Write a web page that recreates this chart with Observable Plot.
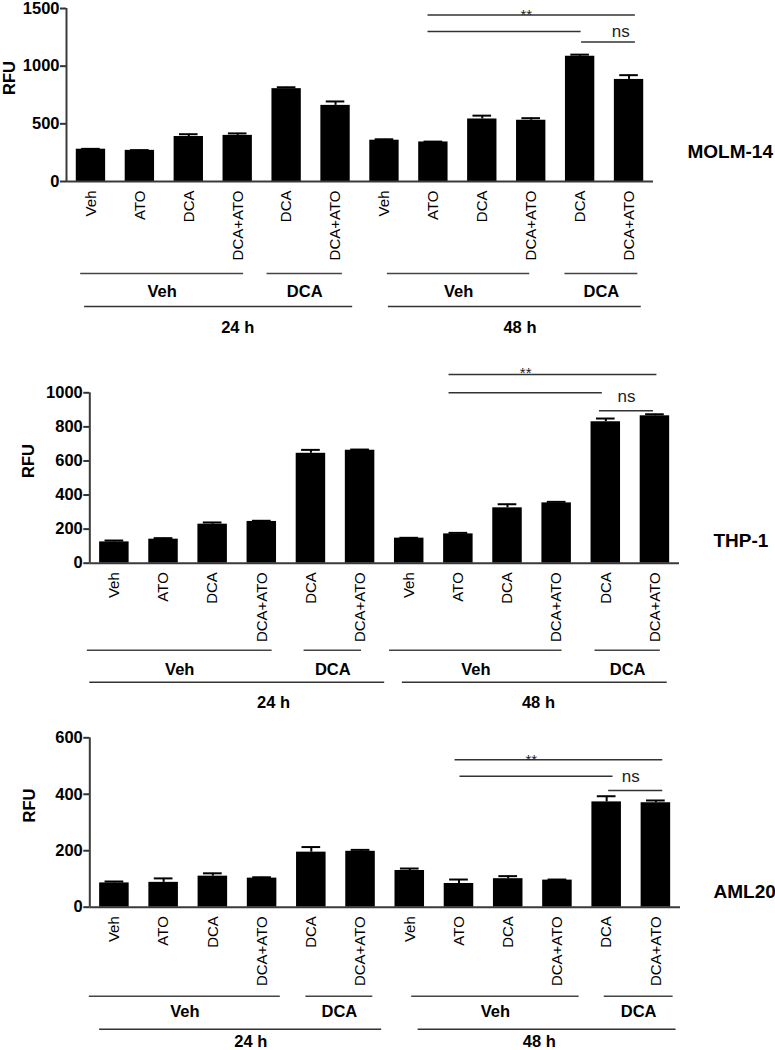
<!DOCTYPE html>
<html><head><meta charset="utf-8">
<script src="https://cdn.jsdelivr.net/npm/d3@7"></script>
<script src="https://cdn.jsdelivr.net/npm/@observablehq/plot@0.6"></script>
<style>
body{margin:0;background:#fff;width:775px;}
svg{display:block;}
</style></head><body><div id="chart"></div>
<script>
// Sample labels (x categories), same in all three panels
const samples = ["Veh","ATO","DCA","DCA+ATO","DCA","DCA+ATO","Veh","ATO","DCA","DCA+ATO","DCA","DCA+ATO"];

// MOLM-14
const molm14Mean = [280, 270, 390, 400, 805, 660, 358, 343, 542, 531, 1086, 885];
const molm14Sem  = [3, 2, 20, 17, 12, 34, 8, 3, 29, 18, 14, 37];
const molm14Ticks = [0, 500, 1000, 1500];

// THP-1
const thp1Mean = [125, 141, 229, 245, 645, 663, 147, 172, 325, 354, 830, 865];
const thp1Sem  = [8, 6, 10, 4, 20, 4, 2, 6, 21, 6, 19, 9];
const thp1Ticks = [0, 200, 400, 600, 800, 1000];

// AML20
const aml20Mean = [86, 88, 110, 103, 195, 198, 130, 84, 101, 96, 373, 370];
const aml20Sem  = [5, 14, 10, 3, 18, 5, 7, 14, 9, 2, 20, 8];
const aml20Ticks = [0, 200, 400, 600];

// Treatment group brackets (in sample-index units)
const molm14Groups = [
  {label:"Veh", from:-0.21, to:3.12}, {label:"DCA", from:3.60, to:5.14},
  {label:"Veh", from:6.06, to:8.97}, {label:"DCA", from:9.69, to:11.18}];
const molm14Times = [
  {label:"24 h", from:-0.13, to:5.35, at:3.0}, {label:"48 h", from:6.08, to:11.25, at:8.77}];
const thp1Groups = [
  {label:"Veh", from:-0.55, to:3.21}, {label:"DCA", from:3.86, to:5.03},
  {label:"Veh", from:5.60, to:9.11}, {label:"DCA", from:9.78, to:11.11}];
const thp1Times = [
  {label:"24 h", from:-0.5, to:5.50, at:3.24}, {label:"48 h", from:5.86, to:11.25, at:8.63}];
const aml20Groups = [
  {label:"Veh", from:-0.51, to:3.37}, {label:"DCA", from:3.89, to:5.25},
  {label:"Veh", from:6.04, to:9.44}, {label:"DCA", from:9.95, to:11.35}];
const aml20Times = [
  {label:"24 h", from:-0.30, to:5.43, at:2.77}, {label:"48 h", from:6.17, to:11.41, at:8.63}];

// Significance annotations (index units, RFU)
const molm14SigLines = [{from:6.89, to:11.13, y:1443}, {from:6.89, to:10.02, y:1300}, {from:10.03, to:11.13, y:1209}];
const molm14SigText = [{label:"**", x:8.90, y:1443}, {label:"ns", x:10.83, y:1303}];
const thp1SigLines = [{from:6.81, to:11.04, y:1107}, {from:6.81, to:9.93, y:1000}, {from:9.87, to:10.97, y:894}];
const thp1SigText = [{label:"**", x:8.37, y:1115}, {label:"ns", x:10.42, y:978}];
const aml20SigLines = [{from:6.92, to:11.14, y:522}, {from:7.02, to:10.13, y:464}, {from:10.04, to:11.14, y:413}];
const aml20SigText = [{label:"**", x:8.47, y:522}, {label:"ns", x:10.49, y:463}];

const FONT = "'Liberation Sans', Arial, Helvetica, sans-serif";

function panel(cfg) {
  const rows = samples.map((s, i) => ({i, s, mean: cfg.mean[i], top: cfg.mean[i] + cfg.sem[i]}));
  const ymax = cfg.ticks[cfg.ticks.length - 1];
  return Plot.plot({
    width: 775, height: cfg.height,
    marginTop: cfg.mt, marginBottom: cfg.mb, marginLeft: cfg.ml, marginRight: cfg.mr,
    x: {domain: [-0.5, 11.5], axis: null},
    y: {domain: [0, ymax], axis: null},
    style: {fontFamily: FONT, background: "#fff", color: "#000", overflow: "visible"},
    marks: [
      Plot.rectY(rows, {x1: d => d.i - 0.3, x2: d => d.i + 0.3, y1: 0, y2: "mean", fill: "#000"}),
      Plot.ruleX(rows, {x: "i", y1: "mean", y2: "top", stroke: "#000", strokeWidth: 2}),
      Plot.ruleY(rows, {y: "top", x1: d => d.i - 0.19, x2: d => d.i + 0.19, stroke: "#000", strokeWidth: 2}),
      Plot.axisY({ticks: cfg.ticks, tickFormat: d => String(d), tickSize: 6, tickPadding: 1,
                  fontSize: 16.5, fontWeight: "bold", label: null, stroke: "#333", strokeWidth: 2, fill: "#000"}),
      Plot.ruleX([-0.5], {y1: 0, y2: ymax, stroke: "#3a3a3a", strokeWidth: 2}),
      Plot.ruleY([0], {x1: -0.5, x2: 11.5, stroke: "#3a3a3a", strokeWidth: 2}),
      Plot.text(rows, {x: "i", y: 0, text: "s", rotate: -90, textAnchor: "end", lineAnchor: "middle",
                       dy: 9, fontSize: 15, fill: "#000"}),
      Plot.text(["RFU"], {frameAnchor: "left", rotate: -90, dx: cfg.labelDx, fontSize: 16.5, fontWeight: "bold"}),
      Plot.text([cfg.name], {frameAnchor: "bottom-right", textAnchor: "start", dx: cfg.nameDx, dy: cfg.nameDy,
                             fontSize: 19, fontWeight: "bold"}),
      // group brackets
      Plot.ruleY(cfg.groups, {x1: "from", x2: "to", y: 0, dy: cfg.subLineDy, stroke: "#444", strokeWidth: 1.5}),
      Plot.text(cfg.groups, {x: d => (d.from + d.to) / 2, y: 0, text: "label", dy: cfg.subTextDy,
                             fontSize: 16.5, fontWeight: "bold"}),
      Plot.ruleY(cfg.times, {x1: "from", x2: "to", y: 0, dy: cfg.timeLineDy, stroke: "#333", strokeWidth: 1.5}),
      Plot.text(cfg.times, {x: "at", y: 0, text: "label", dy: cfg.timeTextDy, fontSize: 16.5, fontWeight: "bold"}),
      // significance
      Plot.ruleY(cfg.sigLines, {x1: "from", x2: "to", y: "y", stroke: "#333", strokeWidth: 1.5}),
      Plot.text(cfg.sigText, {x: "x", y: "y", text: "label", fontSize: d => d.label === "ns" ? 17 : 15, fill: "#222"})
    ]
  });
}

const root = document.getElementById("chart");
root.append(panel({
  name: "MOLM-14", mean: molm14Mean, sem: molm14Sem, ticks: molm14Ticks,
  groups: molm14Groups, times: molm14Times, sigLines: molm14SigLines, sigText: molm14SigText,
  height: 340, mt: 8, mb: 159, ml: 66, mr: 122, labelDx: -57, nameDx: 34, nameDy: -24,
  subLineDy: 92, subTextDy: 110, timeLineDy: 125, timeTextDy: 146
}));
root.append(panel({
  name: "THP-1", mean: thp1Mean, sem: thp1Sem, ticks: thp1Ticks,
  groups: thp1Groups, times: thp1Times, sigLines: thp1SigLines, sigText: thp1SigText,
  height: 380, mt: 52.3, mb: 157.3, ml: 89.3, mr: 96, labelDx: -61, nameDx: 34, nameDy: -16,
  subLineDy: 87, subTextDy: 107, timeLineDy: 119, timeTextDy: 140
}));
root.append(panel({
  name: "AML20", mean: aml20Mean, sem: aml20Sem, ticks: aml20Ticks,
  groups: aml20Groups, times: aml20Times, sigLines: aml20SigLines, sigText: aml20SigText,
  height: 330, mt: 17.3, mb: 143.3, ml: 89.3, mr: 95, labelDx: -60, nameDx: 33, nameDy: -9,
  subLineDy: 89, subTextDy: 105, timeLineDy: 122, timeTextDy: 135
}));
</script>
</body></html>
